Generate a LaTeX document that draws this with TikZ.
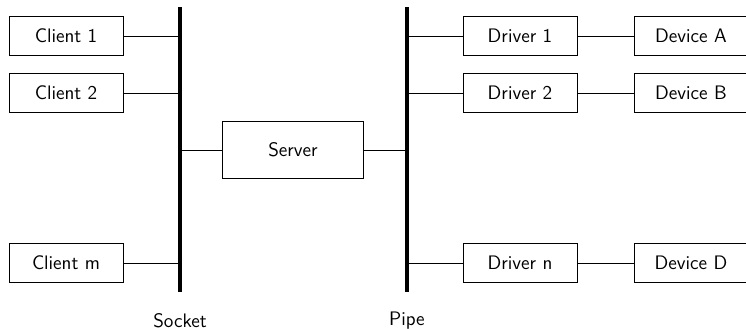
\documentclass[tikz,border=0pt]{standalone}
\usetikzlibrary{calc}

\newcommand{\boxfont}{\sffamily\fontsize{11}{13}\selectfont}

\tikzset{
  box/.style={draw, font=\boxfont, minimum width=2.25cm, minimum height=0.77cm, inner sep=0pt},
  bigbox/.style={box, minimum width=2.8cm, minimum height=1.12cm},
  bus/.style={line width=2pt},
  lbl/.style={font=\boxfont, inner sep=0pt}
}

\begin{document}
\begin{tikzpicture}
        \useasboundingbox (0,0) rectangle (14.75,-6.505);

        % the two buses
        \coordinate (stop) at (3.559,-0.14);
        \coordinate (sbot) at (3.559,-5.77);
        \coordinate (ptop) at (8.047,-0.14);
        \coordinate (pbot) at (8.047,-5.77);
        \draw[bus] (stop) -- (sbot);
        \draw[bus] (ptop) -- (pbot);
        \node[lbl] (socket) at (3.559,-6.34) {Socket};
        \node[lbl] (pipe) at (8.047,-6.34) {Pipe};

        \node[box] (c1) at (1.305,-0.712) {Client 1};
        \node[box] (c2) at (1.305,-1.839) {Client 2};
        \node[box] (cm) at (1.305,-5.2) {Client m};

        \node[bigbox] (srv) at (5.793,-2.966) {Server};

        \node[box] (d1) at (10.281,-0.712) {Driver 1};
        \node[box] (d2) at (10.281,-1.839) {Driver 2};
        \node[box] (dn) at (10.281,-5.2) {Driver n};

        \node[box] (da) at (13.662,-0.712) {Device A};
        \node[box] (db) at (13.662,-1.839) {Device B};
        \node[box] (dd) at (13.662,-5.2) {Device D};

        \draw (c1) -- (c1 -| stop);
        \draw (c2) -- (c2 -| stop);
        \draw (cm) -- (cm -| stop);
        \draw (srv) -- (srv -| stop);
        \draw (srv) -- (srv -| ptop);
        \draw (d1) -- (d1 -| ptop);
        \draw (d2) -- (d2 -| ptop);
        \draw (dn) -- (dn -| ptop);
        \draw (d1) -- (da);
        \draw (d2) -- (db);
        \draw (dn) -- (dd);
    \end{tikzpicture}
\end{document}
